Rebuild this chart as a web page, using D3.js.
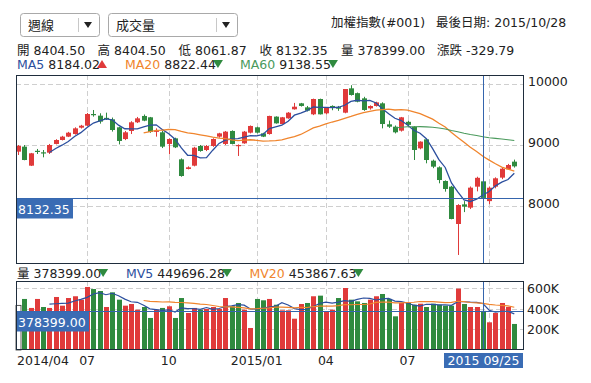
<!DOCTYPE html>
<html><head><meta charset="utf-8">
<script src="https://cdn.jsdelivr.net/npm/d3@7"></script>
<style>
body{margin:0;background:#fff}
svg{display:block}
text{font-family:"DejaVu Sans","Noto Sans CJK TC",sans-serif}
</style>
</head><body>
<svg id="c" width="591" height="383"></svg>
<script>
// ---- data (weekly candles, 2014/04 .. 2015/10) ----
const opens  = [8891,8973,8661,8905,8880,8874,9017,9082,9137,9180,9284,9317,9508,9481,9445,9421,9290,9098,9230,9372,
                9476,9454,9225,9208,9017,9109,8765,8607,8661,8984,8918,8984,9137,9017,9230,8995,9027,9202,9290,9191,
                9180,9465,9344,9437,9585,9683,9617,9503,9754,9519,9640,9620,9530,9929,9850,9765,9601,9639,9683,9339,
                9300,9235,9380,9300,8945,9093,8743,8634,8410,8317,7705,8027,7973,8317,8404.50,8080,8317,8465,8601,8727];
const highs  = [9000,9000,8870,8935,8918,9017,9095,9150,9215,9290,9330,9525,9574,9520,9530,9450,9300,9230,9390,9460,
                9500,9460,9273,9230,9110,9120,8780,8650,8970,9000,9000,9110,9200,9230,9240,9010,9230,9320,9300,9200,
                9480,9470,9460,9540,9690,9690,9640,9760,9760,9620,9650,9640,9918,9980,9860,9790,9650,9710,9700,9400,
                9320,9460,9400,9310,9060,9100,8760,8650,8420,8330,8030,8080,8320,8480,8404.50,8320,8470,8630,8690,8760];
const lows   = [8836,8750,8655,8853,8798,8853,9010,9075,9130,9170,9270,9310,9465,9350,9410,9220,9010,9080,9180,9360,
                9390,9200,9137,8950,8847,8950,8480,8600,8650,8890,8900,8970,9120,9000,9010,8820,9020,9190,9190,9130,
                9170,9350,9340,9430,9580,9630,9550,9490,9500,9500,9570,9560,9520,9810,9700,9560,9580,9630,9273,9280,
                9190,9220,9300,8754,8930,8700,8620,8372,8235,7782,7197,7900,7950,8240,8061.87,8030,8290,8440,8590,8630];
const closes = [8984,8754,8864,8895,8870,9000,9082,9137,9202,9273,9317,9508,9500,9383,9430,9246,9066,9208,9372,9437,
                9399,9213,9235,8973,9098,8962,8492,8634,8956,8902,8984,9098,9191,9219,9017,9000,9219,9312,9202,9137,
                9476,9355,9454,9530,9628,9640,9563,9754,9503,9617,9625,9595,9918,9820,9710,9574,9639,9699,9344,9300,
                9208,9454,9330,8918,9055,8754,8645,8426,8279,7787,8016,7989,8301,8462.14,8132.35,8300,8454,8612,8672,8650];
const volumes = [432,494,407,494,416,407,513,429,503,520,487,610,590,571,416,558,487,429,445,390,
                 416,310,390,407,423,310,503,358,407,390,397,416,397,503,423,455,390,213,494,481,
                 494,438,384,384,303,445,455,520,526,374,390,503,600,487,471,455,487,520,542,494,
                 326,455,455,438,448,416,448,438,429,429,594,445,416,416,378.399,268,358,455,416,252].map(v => v * 1000);
const priceTicks = [8000, 9000, 10000];
const volTicks = [200000, 400000, 600000];
const monthIdx = [11, 24, 38, 49, 62, 75];          // gridlines (first week of each quarter month)
const labelIdx = [0, 11, 24, 38, 49, 62];           // visible x labels
const monthLabels = ["2014/04", "07", "10", "2015/01", "04", "07"];
const cursorIdx = 74;
const cursorDate = "2015 09/25";
const header = {open: "8404.50", high: "8404.50", low: "8061.87", close: "8132.35", vol: "378399.00", chg: "-329.79"};
const maInfo = [["MA5", "8184.02", "up"], ["MA20", "8822.44", "down"], ["MA60", "9138.55", "down"]];
const mvInfo = [["MV5", "449696.28", "down"], ["MV20", "453867.63", "down"]];

// ---- drawing ----
const svg = d3.select("#c");
const RED = "#e03a3a", GREEN = "#2f8a3f", BLUE = "#2c4f9e", ORANGE = "#f0852d", MA60C = "#4a9a5c";
const FRAME = "#1f2d3d", GRID = "#cfcfcf", CROSS = "#3565ad", BOX = "#3a6cb4";
const L = 16, R = 524;
const mainTop = 75, mainBot = 264, volTop = 281, volBot = 350;
const n = closes.length;
const x = d3.scaleLinear().domain([0, n - 1]).range([18, 514.3]);
const y = d3.scaleLinear().domain([8000, 10000]).range([206, 84]);
const yv = d3.scaleLinear().domain([0, 600000]).range([350, 288]);

function ma(arr, N) {
  return arr.map((d, i) => i < N ? null : d3.mean(arr.slice(i - N + 1, i + 1)));
}

// header widgets
function dropdown(x0, w, sep, label) {
  const g = svg.append("g");
  g.append("rect").attr("x", x0 + .5).attr("y", 13.5).attr("width", w).attr("height", 23).attr("rx", 3)
    .attr("fill", "#fff").attr("stroke", "#a9a9a9");
  g.append("line").attr("x1", sep + .5).attr("x2", sep + .5).attr("y1", 18).attr("y2", 32).attr("stroke", "#c8c8c8");
  g.append("text").attr("x", x0 + 8).attr("y", 30).attr("font-size", 13).attr("fill", "#222").text(label);
  g.append("path").attr("d", `M${sep + 6},22 h8 l-4,6 z`).attr("fill", "#222");
}
dropdown(20, 79, 78, "週線");
dropdown(108, 129, 216, "成交量");
svg.append("text").attr("x", 331).attr("y", 27).attr("font-size", 12.5).attr("fill", "#222").text("加權指數(#001)");
svg.append("text").attr("x", 436).attr("y", 27).attr("font-size", 12.5).attr("fill", "#222").text("最後日期: 2015/10/28");

const row1 = [["開", header.open, 17], ["高", header.high, 97.5], ["低", header.low, 178.5], ["收", header.close, 259.5], ["量", header.vol, 341], ["漲跌", header.chg, 437]];
row1.forEach(([k, v, xx]) => {
  const t = svg.append("text").attr("x", xx).attr("y", 55).attr("font-size", 12.5).attr("fill", "#222");
  t.append("tspan").text(k);
  t.append("tspan").attr("dx", 4).text(v);
});

function tri(xx, yy, dir, col) {
  const d = dir === "up" ? `M${xx},${yy} l5,-8 l5,8 z` : `M${xx},${yy - 8} l10,0 l-5,8 z`;
  svg.append("path").attr("d", d).attr("fill", col);
}
const maCols = [BLUE, ORANGE, MA60C];
const maX = [17, 125, 240];
maInfo.forEach(([k, v, dir], j) => {
  const t = svg.append("text").attr("x", maX[j]).attr("y", 68.5).attr("font-size", 12.5);
  t.append("tspan").attr("fill", maCols[j]).text(k);
  t.append("tspan").attr("dx", 4).attr("fill", "#222").text(v);
  const w = t.node().getComputedTextLength();
  tri(maX[j] + w + 1, 68, dir, dir === "up" ? RED : GREEN);
});

// main panel
const gMain = svg.append("g");
gMain.append("g").selectAll("line").data(priceTicks).join("line")
  .attr("x1", L).attr("x2", R).attr("y1", d => Math.round(y(d)) + .5).attr("y2", d => Math.round(y(d)) + .5)
  .attr("stroke", GRID).attr("stroke-dasharray", "5,3");
gMain.append("g").selectAll("line").data(monthIdx).join("line")
  .attr("x1", d => Math.round(x(d)) + .5).attr("x2", d => Math.round(x(d)) + .5).attr("y1", mainTop).attr("y2", mainBot)
  .attr("stroke", GRID).attr("stroke-dasharray", "5,3");

const idx = d3.range(n);
const up = i => closes[i] >= opens[i];
gMain.append("g").selectAll("line").data(idx).join("line")
  .attr("x1", i => Math.round(x(i)) + .5).attr("x2", i => Math.round(x(i)) + .5)
  .attr("y1", i => y(highs[i])).attr("y2", i => y(lows[i]))
  .attr("stroke", i => up(i) ? RED : GREEN);
gMain.append("g").selectAll("rect").data(idx).join("rect")
  .attr("x", i => Math.round(x(i)) - 2).attr("width", 5)
  .attr("y", i => y(Math.max(opens[i], closes[i])))
  .attr("height", i => Math.max(1.2, Math.abs(y(opens[i]) - y(closes[i]))))
  .attr("fill", i => up(i) ? RED : GREEN);

const line = d3.line().defined(d => d[1] != null).x(d => x(d[0])).y(d => y(d[1]));
[[ma(closes, 5), BLUE, 1.3], [ma(closes, 20), ORANGE, 1.3], [ma(closes, 60), MA60C, 1.1]].forEach(([arr, c, w]) => {
  gMain.append("path").datum(arr.map((v, i) => [i, v])).attr("d", line).attr("fill", "none").attr("stroke", c).attr("stroke-width", w);
});

// cursor lines
const cx = Math.round(x(cursorIdx)) + .5;
const cy = Math.round(y(closes[cursorIdx])) + .5;
gMain.append("line").attr("x1", L).attr("x2", R).attr("y1", cy).attr("y2", cy).attr("stroke", CROSS);
gMain.append("line").attr("x1", cx).attr("x2", cx).attr("y1", mainTop).attr("y2", mainBot).attr("stroke", CROSS);
gMain.append("rect").attr("x", L).attr("y", cy).attr("width", 57).attr("height", 20).attr("fill", BOX);
gMain.append("text").attr("x", L + 2).attr("y", cy + 15).attr("font-size", 12.5).attr("fill", "#fff").text(header.close);

gMain.append("rect").attr("x", L + .5).attr("y", mainTop + .5).attr("width", R - L - 1).attr("height", mainBot - mainTop - 1)
  .attr("fill", "none").attr("stroke", FRAME);
svg.append("g").selectAll("text").data(priceTicks).join("text")
  .attr("x", 528).attr("y", d => y(d) + 2).attr("font-size", 12.5).attr("fill", "#222").text(d => d);

// volume header
{
  const t = svg.append("text").attr("x", 17).attr("y", 277.5).attr("font-size", 12.5).attr("fill", "#222");
  t.append("tspan").text("量");
  t.append("tspan").attr("dx", 4).text(header.vol);
  tri(17 + t.node().getComputedTextLength() + 1, 277, "down", GREEN);
  const mvX = [126, 249.5], mvC = [BLUE, ORANGE];
  mvInfo.forEach(([k, v, dir], j) => {
    const tt = svg.append("text").attr("x", mvX[j]).attr("y", 277.5).attr("font-size", 12.5);
    tt.append("tspan").attr("fill", mvC[j]).text(k);
    tt.append("tspan").attr("dx", 4).attr("fill", "#222").text(v);
    tri(mvX[j] + tt.node().getComputedTextLength() + 1, 277, dir, GREEN);
  });
}

// volume panel
const gVol = svg.append("g");
gVol.append("g").selectAll("line").data(volTicks).join("line")
  .attr("x1", L).attr("x2", R).attr("y1", d => Math.round(yv(d)) + .5).attr("y2", d => Math.round(yv(d)) + .5)
  .attr("stroke", GRID).attr("stroke-dasharray", "5,3");
gVol.append("g").selectAll("line").data(monthIdx).join("line")
  .attr("x1", d => Math.round(x(d)) + .5).attr("x2", d => Math.round(x(d)) + .5).attr("y1", volTop).attr("y2", volBot)
  .attr("stroke", GRID).attr("stroke-dasharray", "5,3");
const volCol = i => i === 0 ? "#fff" : closes[i] > closes[i - 1] ? RED : GREEN;
gVol.append("g").selectAll("rect").data(idx).join("rect")
  .attr("x", i => Math.round(x(i)) - 2).attr("width", 5)
  .attr("y", i => yv(volumes[i])).attr("height", i => volBot - yv(volumes[i]))
  .attr("fill", volCol).attr("stroke", i => i === 0 ? "#333" : "none").attr("stroke-width", .8);
const vline = d3.line().defined(d => d[1] != null).x(d => x(d[0])).y(d => yv(d[1]));
[[ma(volumes, 5), BLUE], [ma(volumes, 20), ORANGE]].forEach(([arr, c]) => {
  gVol.append("path").datum(arr.map((v, i) => [i, v])).attr("d", vline).attr("fill", "none").attr("stroke", c).attr("stroke-width", 1.2);
});
const vy = Math.round(yv(volumes[cursorIdx])) + .5;
gVol.append("line").attr("x1", L).attr("x2", R).attr("y1", vy).attr("y2", vy).attr("stroke", CROSS);
gVol.append("line").attr("x1", cx).attr("x2", cx).attr("y1", volTop).attr("y2", volBot).attr("stroke", CROSS);
gVol.append("rect").attr("x", L).attr("y", vy).attr("width", 73).attr("height", 20).attr("fill", BOX);
gVol.append("text").attr("x", L + 2).attr("y", vy + 15).attr("font-size", 12.5).attr("fill", "#fff").text(header.vol);
gVol.append("rect").attr("x", L + .5).attr("y", volTop + .5).attr("width", R - L - 1).attr("height", volBot - volTop - 1)
  .attr("fill", "none").attr("stroke", FRAME);
svg.append("g").selectAll("text").data(volTicks).join("text")
  .attr("x", 527).attr("y", d => yv(d) + 5).attr("font-size", 12.5).attr("fill", "#222").text(d => (d / 1000) + "K");

// x axis labels
svg.append("g").selectAll("text").data(labelIdx).join("text")
  .attr("x", (d, j) => j === 0 ? 17 : x(d)).attr("y", 365).attr("text-anchor", (d, j) => j === 0 ? "start" : "middle")
  .attr("font-size", 12.5).attr("fill", "#222").text((d, j) => monthLabels[j]);
svg.append("rect").attr("x", cx - 39.5).attr("y", 353).attr("width", 79).attr("height", 15).attr("fill", BOX);
svg.append("text").attr("x", cx).attr("y", 365).attr("text-anchor", "middle").attr("font-size", 12.5).attr("fill", "#fff").text(cursorDate);
</script>
</body></html>
